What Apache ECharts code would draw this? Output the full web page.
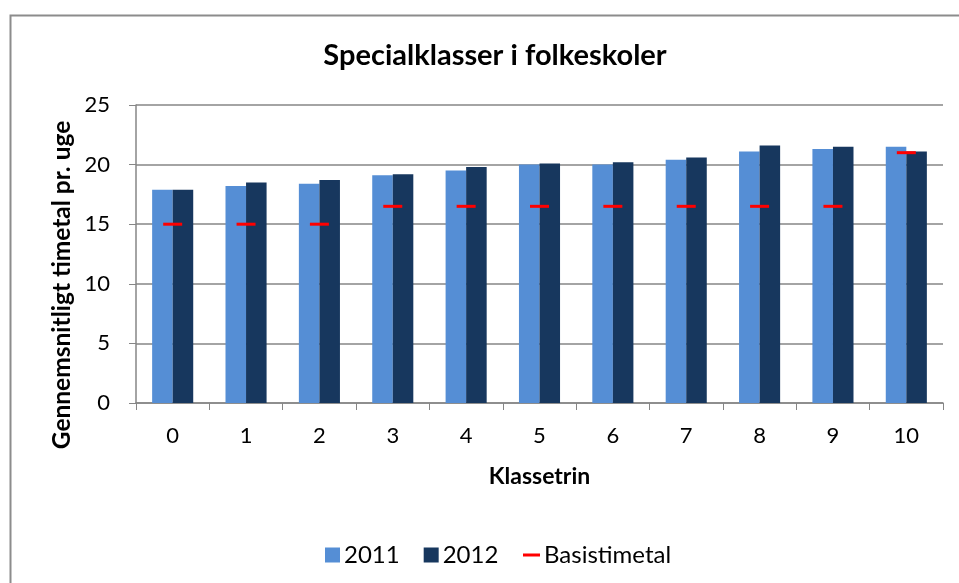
<!DOCTYPE html>
<html>
<head>
<meta charset="utf-8">
<script src="https://cdn.jsdelivr.net/npm/echarts@6/dist/echarts.min.js"></script>
<style>html,body{margin:0;padding:0;background:#fff;}#c{width:959px;height:583px;}</style>
</head>
<body>
<div id="c"></div>
<script>
const categories = ['0','1','2','3','4','5','6','7','8','9','10'];
const values2011 = [17.9, 18.2, 18.4, 19.1, 19.5, 20.0, 20.0, 20.4, 21.1, 21.3, 21.5];
const values2012 = [17.9, 18.5, 18.7, 19.2, 19.8, 20.1, 20.2, 20.6, 21.6, 21.5, 21.1];
const basistimetal = [15, 15, 15, 16.5, 16.5, 16.5, 16.5, 16.5, 16.5, 16.5, 21];
const yTicks = [0, 5, 10, 15, 20, 25];
const yAxisTitle = 'Gennemsnitligt timetal pr. uge';

const FONT = 'Lato';
const chart = echarts.init(document.getElementById('c'));
chart.setOption({
  animation: false,
  backgroundColor: '#fff',
  textStyle: { fontFamily: FONT, color: '#000' },
  graphic: [{
    type: 'rect', left: 8, top: 13,
    shape: { width: 1000, height: 700 },
    style: { fill: 'none', stroke: '#8c8c8c', lineWidth: 2 },
    silent: true, z: -1
  }, {
    type: 'text',
    x: 62, y: 285,
    rotation: Math.PI / 2,
    style: {
      text: yAxisTitle,
      fontFamily: FONT, fontSize: 24.5, fontWeight: 'bold', fill: '#000',
      align: 'center', verticalAlign: 'middle'
    },
    silent: true
  }],
  title: {
    text: 'Specialklasser i folkeskoler',
    left: 490, top: 36, textAlign: 'center',
    textStyle: { fontFamily: FONT, fontSize: 29, fontWeight: 'bold', color: '#000' }
  },
  legend: [{
    data: ['2011', '2012'],
    left: 320, top: 538,
    itemWidth: 15, itemHeight: 15, itemGap: 24, icon: 'rect',
    textStyle: { fontFamily: FONT, fontSize: 24, color: '#000', padding: [0, 0, 0, -1] }
  }, {
    data: ['Basistimetal'],
    left: 518, top: 538,
    itemWidth: 17, itemHeight: 3, icon: 'rect',
    textStyle: { fontFamily: FONT, fontSize: 24, color: '#000', padding: [0, 0, 0, -1] }
  }],
  grid: { left: 136, right: 16, top: 105, bottom: 180, containLabel: false },
  xAxis: {
    type: 'category',
    data: categories,
    name: 'Klassetrin',
    nameLocation: 'middle',
    nameGap: 62,
    nameTextStyle: { fontFamily: FONT, fontSize: 23, fontWeight: 'bold', color: '#000' },
    axisLine: { lineStyle: { color: '#868686', width: 1.5 } },
    axisTick: { show: true, length: 7, lineStyle: { color: '#868686' } },
    axisLabel: { fontFamily: FONT, fontSize: 22, color: '#000', margin: 22 }
  },
  yAxis: {
    type: 'value',
    min: yTicks[0], max: yTicks[yTicks.length - 1], interval: 5,
    axisLine: { show: true, lineStyle: { color: '#868686', width: 1.5 } },
    axisTick: { show: true, length: 7, inside: false, lineStyle: { color: '#868686' } },
    axisLabel: { fontFamily: FONT, fontSize: 22, color: '#000', margin: 26 },
    splitLine: { lineStyle: { color: '#868686', width: 1.5 } }
  },
  series: [{
    name: '2011', type: 'bar', data: values2011,
    itemStyle: { color: '#558ED5' },
    barGap: '0%', barCategoryGap: '44%'
  }, {
    name: '2012', type: 'bar', data: values2012,
    itemStyle: { color: '#17375E' },
    barGap: '0%', barCategoryGap: '44%'
  }, {
    name: 'Basistimetal', type: 'scatter', data: basistimetal,
    symbol: 'rect', symbolSize: [19, 3],
    itemStyle: { color: '#FF0000', opacity: 1 },
    z: 5
  }]
});
</script>
</body>
</html>
